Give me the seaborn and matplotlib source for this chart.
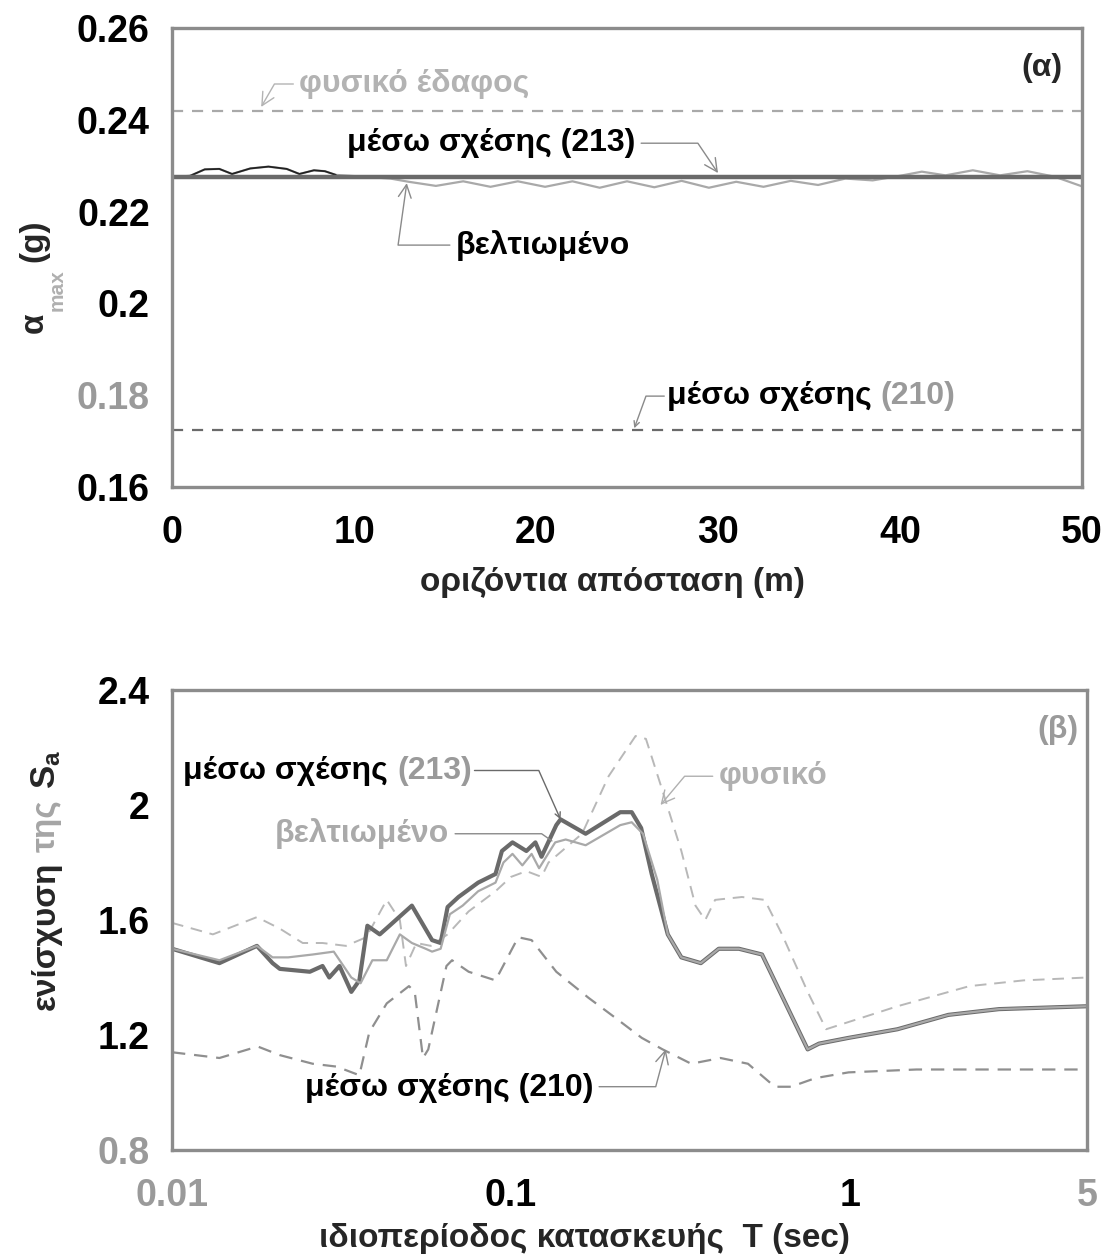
import numpy as np
import pandas as pd
import matplotlib
matplotlib.use("Agg")
import matplotlib.pyplot as plt
from matplotlib.ticker import FixedLocator, NullFormatter
import seaborn as sns

# ---------------- data : panel (α) ----------------
top_x_flat = [0, 10, 20, 30, 40, 50]
top_natural = [0.2420, 0.2420, 0.2420, 0.2420, 0.2420, 0.2420]
top_rel213 = [0.2275, 0.2275, 0.2275, 0.2275, 0.2275, 0.2275]
top_rel210 = [0.1725, 0.1725, 0.1725, 0.1725, 0.1725, 0.1725]
top_impr_x = [0, 1.0, 1.8, 2.6, 3.3, 4.3, 5.3, 6.3, 7.0, 7.8, 8.4, 9.0, 10.5, 12.0,
              13.0, 14.5, 16.0, 17.5, 19.0, 20.5, 22.0, 23.5, 25.0, 26.5, 28.0, 29.5,
              31.0, 32.5, 34.0, 35.5, 37.0, 38.5, 40.0, 41.2, 42.5, 44.0, 45.5, 47.0,
              48.5, 50.0]
top_impr_y = [0.2275, 0.2278, 0.2292, 0.2293, 0.2282, 0.2294, 0.2298, 0.2293, 0.2282,
              0.2290, 0.2288, 0.2280, 0.2276, 0.2272, 0.2265, 0.2256, 0.2266, 0.2254,
              0.2266, 0.2254, 0.2266, 0.2252, 0.2266, 0.2253, 0.2267, 0.2252, 0.2265,
              0.2254, 0.2267, 0.2258, 0.2272, 0.2268, 0.2278, 0.2287, 0.2279, 0.2290,
              0.2279, 0.2288, 0.2276, 0.2255]

# ---------------- data : panel (β) ----------------
T_213 = [0.010, 0.0138, 0.0178, 0.0198, 0.0208, 0.0255, 0.0278, 0.0291, 0.0312, 0.0338,
         0.0357, 0.0377, 0.041, 0.0438, 0.051, 0.0585, 0.062, 0.065, 0.070, 0.080,
         0.090, 0.094, 0.101, 0.111, 0.118, 0.123, 0.136, 0.14, 0.166, 0.21,
         0.227, 0.242, 0.26, 0.29, 0.318, 0.363, 0.41, 0.47, 0.55, 0.75,
         0.81, 0.99, 1.38, 1.95, 2.75, 5.0]
Sa_213 = [1.50, 1.45, 1.51, 1.45, 1.43, 1.42, 1.44, 1.40, 1.44, 1.35,
          1.39, 1.58, 1.55, 1.58, 1.65, 1.53, 1.52, 1.645, 1.68, 1.73,
          1.76, 1.84, 1.87, 1.84, 1.87, 1.82, 1.93, 1.95, 1.90, 1.975,
          1.975, 1.92, 1.76, 1.55, 1.47, 1.45, 1.50, 1.50, 1.48, 1.15,
          1.17, 1.19, 1.22, 1.27, 1.29, 1.30]

T_impr = [0.010, 0.0138, 0.0178, 0.0198, 0.022, 0.026, 0.030, 0.0338, 0.036, 0.039,
          0.043, 0.047, 0.051, 0.056, 0.0585, 0.062, 0.066, 0.072, 0.080, 0.090,
          0.095, 0.101, 0.108, 0.115, 0.121, 0.135, 0.145, 0.166, 0.21, 0.227,
          0.245, 0.27, 0.29, 0.318, 0.363, 0.41, 0.47, 0.55, 0.75, 0.81,
          0.99, 1.38, 1.95, 2.75, 5.0]
Sa_impr = [1.50, 1.46, 1.51, 1.47, 1.47, 1.48, 1.49, 1.40, 1.38, 1.46,
           1.46, 1.55, 1.52, 1.50, 1.49, 1.50, 1.62, 1.65, 1.70, 1.73,
           1.80, 1.83, 1.79, 1.83, 1.78, 1.87, 1.88, 1.86, 1.93, 1.94,
           1.90, 1.74, 1.55, 1.47, 1.45, 1.50, 1.50, 1.48, 1.15, 1.17,
           1.19, 1.22, 1.27, 1.29, 1.30]

T_nat = [0.010, 0.0132, 0.0178, 0.0208, 0.0243, 0.0278, 0.0326, 0.0374, 0.043, 0.047,
         0.049, 0.0526, 0.058, 0.065, 0.075, 0.090, 0.100, 0.111, 0.123, 0.129,
         0.162, 0.194, 0.233, 0.25, 0.278, 0.318, 0.35, 0.374, 0.40, 0.48,
         0.56, 0.63, 0.75, 0.85, 1.38, 2.25, 3.25, 5.0]
Sa_nat = [1.59, 1.55, 1.61, 1.57, 1.52, 1.52, 1.51, 1.54, 1.67, 1.60,
          1.44, 1.52, 1.51, 1.55, 1.63, 1.70, 1.75, 1.77, 1.75, 1.80,
          1.90, 2.10, 2.24, 2.23, 2.06, 1.84, 1.65, 1.60, 1.67, 1.68,
          1.67, 1.55, 1.35, 1.22, 1.30, 1.37, 1.39, 1.40]

T_210 = [0.010, 0.0138, 0.0179, 0.0208, 0.026, 0.0306, 0.0357, 0.0382, 0.043, 0.050,
         0.052, 0.055, 0.057, 0.0645, 0.067, 0.075, 0.090, 0.105, 0.115, 0.136,
         0.169, 0.203, 0.243, 0.28, 0.34, 0.415, 0.50, 0.60, 0.67, 0.79,
         0.99, 1.57, 5.0]
Sa_210 = [1.14, 1.12, 1.16, 1.13, 1.10, 1.09, 1.06, 1.21, 1.31, 1.37,
          1.35, 1.12, 1.15, 1.44, 1.46, 1.42, 1.39, 1.54, 1.53, 1.42,
          1.33, 1.26, 1.19, 1.15, 1.10, 1.12, 1.10, 1.02, 1.02, 1.05,
          1.07, 1.08, 1.08]

top_xticks = [0, 10, 20, 30, 40, 50]
top_xticklabels = ["0", "10", "20", "30", "40", "50"]
top_yticks = [0.16, 0.18, 0.20, 0.22, 0.24, 0.26]
top_yticklabels = ["0.16", "0.18", "0.2", "0.22", "0.24", "0.26"]
bot_xticks = [0.01, 0.1, 1, 5]
bot_xticklabels = ["0.01", "0.1", "1", "5"]
bot_yticks = [0.8, 1.2, 1.6, 2.0, 2.4]
bot_yticklabels = ["0.8", "1.2", "1.6", "2", "2.4"]

# ---------------- style ----------------
sns.set_style("white")
plt.rcParams['font.family'] = ['Liberation Sans', 'DejaVu Sans']
plt.rcParams['font.weight'] = 'bold'
plt.rcParams['mathtext.fontset'] = 'custom'
plt.rcParams['mathtext.rm'] = 'Liberation Sans:bold'
plt.rcParams['mathtext.it'] = 'Liberation Sans:bold'
plt.rcParams['mathtext.bf'] = 'Liberation Sans:bold'

SPINE = "#8c8c8c"
DARK = "#6a6a6a"
LIGHT = "#a9a9a9"
LIGHTER = "#b8b8b8"
GRAYTXT = "#9a9a9a"
TICKFS = 27
ANNFS = 23

fig = plt.figure(figsize=(11.05, 12.6), dpi=100)
ax1 = fig.add_axes([172/1105, 1-487/1260, (1082-172)/1105, (487-28)/1260])
ax2 = fig.add_axes([172/1105, 1-1150/1260, (1087-172)/1105, (1150-690)/1260])

# ---------------- panel (α) ----------------
sns.lineplot(x=top_x_flat, y=top_natural, ax=ax1, color=LIGHT, lw=1.6,
             linestyle=(0, (5, 4)), estimator=None, sort=False)
sns.lineplot(x=top_x_flat, y=top_rel210, ax=ax1, color=DARK, lw=1.6,
             linestyle=(0, (5, 4)), estimator=None, sort=False)
sns.lineplot(x=top_impr_x, y=top_impr_y, ax=ax1, color=LIGHT, lw=1.6,
             estimator=None, sort=False)
n_dark = 12
sns.lineplot(x=top_impr_x[:n_dark], y=top_impr_y[:n_dark], ax=ax1, color="#222222",
             lw=1.3, estimator=None, sort=False)
sns.lineplot(x=top_x_flat, y=top_rel213, ax=ax1, color=DARK, lw=3.2,
             estimator=None, sort=False)

ax1.set_xlim(0, 50)
ax1.set_ylim(0.16, 0.26)
ax1.set_xticks(top_xticks)
ax1.set_xticklabels(top_xticklabels)
ax1.set_yticks(top_yticks)
ax1.set_yticklabels(top_yticklabels)
ax1.xaxis.set_minor_locator(FixedLocator([5, 15, 25, 35, 45]))
ax1.yaxis.set_minor_locator(FixedLocator([0.17, 0.19, 0.21, 0.23, 0.25]))

# ---------------- panel (β) ----------------
ax2.set_xscale("log")
sns.lineplot(x=T_nat, y=Sa_nat, ax=ax2, color=LIGHTER, lw=1.4,
             linestyle=(0, (6, 4)), estimator=None, sort=False)
sns.lineplot(x=T_210, y=Sa_210, ax=ax2, color="#8f8f8f", lw=1.6,
             linestyle=(0, (6, 4)), estimator=None, sort=False)
sns.lineplot(x=T_213, y=Sa_213, ax=ax2, color=DARK, lw=3.0,
             estimator=None, sort=False)
sns.lineplot(x=T_impr, y=Sa_impr, ax=ax2, color=LIGHT, lw=1.6,
             estimator=None, sort=False)

ax2.set_xlim(0.01, 5)
ax2.set_ylim(0.8, 2.4)
ax2.set_xticks(bot_xticks)
ax2.set_xticklabels(bot_xticklabels)
ax2.set_yticks(bot_yticks)
ax2.set_yticklabels(bot_yticklabels)
minor_T = [m * d for d in (0.01, 0.1) for m in range(2, 10)] + [2, 3, 4]
ax2.xaxis.set_minor_locator(FixedLocator(minor_T))
ax2.xaxis.set_minor_formatter(NullFormatter())
ax2.yaxis.set_minor_locator(FixedLocator([1.0, 1.4, 1.8, 2.2]))

# ---------------- common axes styling ----------------
for ax in (ax1, ax2):
    ax.set_xlabel("")
    ax.set_ylabel("")
    for s in ax.spines.values():
        s.set_color(SPINE)
        s.set_linewidth(2.4)
    ax.tick_params(which="major", direction="in", length=14, width=2.2,
                   color=SPINE, labelsize=TICKFS, pad=16)
    ax.tick_params(which="minor", direction="in", length=7, width=2.0, color=SPINE)
    ax.tick_params(axis="y", which="major", length=16)
    for lbl in ax.get_xticklabels() + ax.get_yticklabels():
        lbl.set_fontweight("bold")
        lbl.set_color("black")
ax1.tick_params(axis="x", pad=20)
ax2.tick_params(axis="x", which="major", length=18, pad=20)

ax1.get_yticklabels()[1].set_color(GRAYTXT)
ax2.get_yticklabels()[0].set_color(GRAYTXT)
ax2.get_xticklabels()[0].set_color(GRAYTXT)
ax2.get_xticklabels()[3].set_color(GRAYTXT)

# ---------------- axis labels ----------------
fig.text(612/1105, 1-582/1260, "οριζόντια απόσταση (m)", ha="center", va="center",
         fontsize=24, fontweight="bold")
fig.text(584/1105, 1-1238/1260, "ιδιοπερίοδος κατασκευής  T (sec)", ha="center",
         va="center", fontsize=24, fontweight="bold")

fig.canvas.draw()
r = fig.canvas.get_renderer()
W, H = fig.bbox.width, fig.bbox.height

# rotated y label (α): α, grey "max" subscript, (g)
t1 = fig.text(34/W, 1-333/H, "α", rotation=90, ha="center", va="bottom",
              fontsize=24, fontweight="bold")
fig.canvas.draw()
bb = t1.get_window_extent(r)
t1b = fig.text((bb.x1 - 2) / W, (bb.y1 + 1) / H, "max", rotation=90, fontsize=15,
               fontweight="bold", color="#b0b0b0", ha="left", va="bottom")
fig.canvas.draw()
bb2 = t1b.get_window_extent(r)
fig.text((bb.x0 + bb.x1) / 2 / W, (bb2.y1 + 8) / H, "(g)", rotation=90,
         ha="center", va="bottom", fontsize=24, fontweight="bold")

# rotated y label (β): ενίσχυση, grey της, S_a
y1 = fig.text(46/W, 1-1010/H, "ενίσχυση", rotation=90, ha="center", va="bottom",
              fontsize=24, fontweight="bold")
fig.canvas.draw()
bby = y1.get_window_extent(r)
y2 = fig.text((bby.x0 + bby.x1) / 2 / W, (bby.y1 + 10) / H,
              "της", rotation=90, ha="center", va="bottom", fontsize=24,
              fontweight="bold", color="#a5a5a5")
fig.canvas.draw()
bby2 = y2.get_window_extent(r)
fig.text((bby.x0 + bby.x1) / 2 / W, (bby2.y1 + 10) / H,
         "S$_\\mathregular{a}$", rotation=90, ha="center", va="bottom", fontsize=25,
         fontweight="bold")

# ---------------- annotations (α) ----------------
arr = dict(arrowstyle="->", color="#8a8a8a", lw=1.0, shrinkA=2, shrinkB=0)
ax1.text(47.8, 0.2513, "(α)", ha="center", va="center", fontsize=ANNFS, fontweight="bold")

ax1.annotate("φυσικό έδαφος", xy=(4.9, 0.2428), xytext=(7.0, 0.2478),
             ha="left", va="center", fontsize=ANNFS, fontweight="bold", color="#b3b3b3",
             arrowprops=dict(arr, color="#b3b3b3",
                             connectionstyle="angle,angleA=0,angleB=60,rad=0"))
ax1.annotate("μέσω σχέσης (213)", xy=(30.0, 0.2284), xytext=(9.6, 0.2349),
             ha="left", va="center", fontsize=ANNFS, fontweight="bold", color="black",
             arrowprops=dict(arr, connectionstyle="angle,angleA=0,angleB=124,rad=0",
                             relpos=(1.0, 0.5)))
ax1.annotate("βελτιωμένο", xy=(12.9, 0.2262), xytext=(15.6, 0.2127),
             ha="left", va="center", fontsize=ANNFS, fontweight="bold", color="black",
             arrowprops=dict(arr, color="#8a8a8a",
                             connectionstyle="angle,angleA=0,angleB=82,rad=0",
                             relpos=(0.0, 0.5)))
t210 = ax1.text(27.2, 0.1798, "μέσω σχέσης ", ha="left", va="center",
                fontsize=ANNFS, fontweight="bold", color="black")
ax1.annotate("(210)", xy=(1, 0), xycoords=t210, ha="left", va="bottom",
             fontsize=ANNFS, fontweight="bold", color=GRAYTXT)
ax1.annotate("", xy=(25.4, 0.1728), xytext=(0, 0.5), textcoords=t210,
             arrowprops=dict(arr, connectionstyle="angle,angleA=0,angleB=70,rad=0"))

# ---------------- annotations (β) ----------------
ax2.text(4.1, 2.26, "(β)", ha="center", va="center", fontsize=ANNFS, fontweight="bold",
         color=GRAYTXT)
t213 = ax2.text(0.0108, 2.12, "μέσω σχέσης ", ha="left", va="center", fontsize=ANNFS,
                fontweight="bold", color="black")
p213 = ax2.annotate("(213)", xy=(1, 0), xycoords=t213, ha="left", va="bottom",
                    fontsize=ANNFS, fontweight="bold", color=GRAYTXT)
ax2.annotate("", xy=(0.14, 1.95), xytext=(1, 0.5), textcoords=p213,
             arrowprops=dict(arr, color="#6a6a6a",
                             connectionstyle="angle,angleA=0,angleB=114,rad=0"))
ax2.annotate("βελτιωμένο", xy=(0.132, 1.875), xytext=(0.0201, 1.90),
             ha="left", va="center", fontsize=ANNFS, fontweight="bold", color="#aaaaaa",
             arrowprops=dict(arr, arrowstyle="-", color="#8a8a8a",
                             connectionstyle="angle,angleA=0,angleB=-35,rad=0",
                             relpos=(1.0, 0.5)))
ax2.annotate("φυσικό", xy=(0.276, 2.0), xytext=(0.41, 2.10),
             ha="left", va="center", fontsize=ANNFS, fontweight="bold", color="#b0b0b0",
             arrowprops=dict(arr, color="#b0b0b0",
                             connectionstyle="angle,angleA=0,angleB=50,rad=0",
                             relpos=(0.0, 0.5)))
ax2.annotate("μέσω σχέσης (210)", xy=(0.286, 1.15), xytext=(0.0246, 1.015),
             ha="left", va="center", fontsize=ANNFS, fontweight="bold", color="black",
             arrowprops=dict(arr, connectionstyle="angle,angleA=0,angleB=75,rad=0",
                             relpos=(1.0, 0.55)))

fig.savefig("out.png", dpi=100)
